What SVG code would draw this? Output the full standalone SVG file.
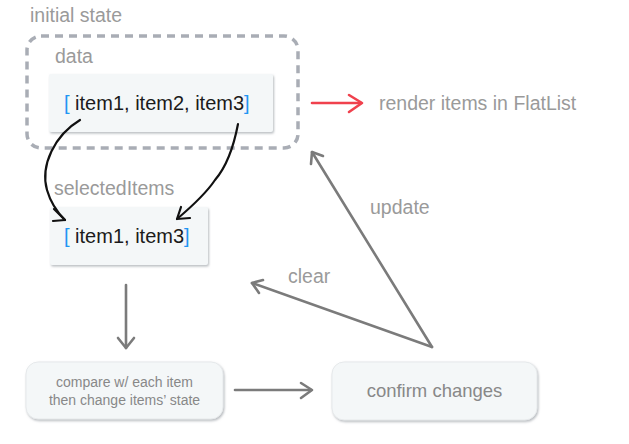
<svg xmlns="http://www.w3.org/2000/svg" width="629" height="444" viewBox="0 0 629 444">
  <style>
    text { font-family: "Liberation Sans", Arial, sans-serif; }
    .lbl { fill: #9a9a9a; font-size: 19.5px; }
    .item { fill: #1b1b1b; font-size: 20px; }
    .br { fill: #2196f3; }
    .small { fill: #888888; font-size: 14px; }
    .big { fill: #888888; font-size: 18.5px; }
    .box { fill: #f4f7f8; }
    .rbox { fill: #f4f7f8; stroke: #e6e9eb; stroke-width: 1; }
    .blk { fill: none; stroke: #111111; stroke-width: 2.2; stroke-linecap: round; stroke-linejoin: round; }
    .gry { fill: none; stroke: #7b7b7b; stroke-width: 2.6; stroke-linecap: round; stroke-linejoin: round; }
    .red { fill: none; stroke: #f0414d; stroke-width: 2.6; stroke-linecap: round; stroke-linejoin: round; }
  </style>
  <defs>
    <filter id="sh" x="-10%" y="-10%" width="125%" height="130%">
      <feDropShadow dx="1" dy="1.5" stdDeviation="0.8" flood-color="#9aa0a6" flood-opacity="0.7"/>
    </filter>
  </defs>

  <g id="initial-state">
    <text class="lbl" x="30" y="22">initial state</text>
    <rect x="27" y="36" width="271" height="112" rx="14" fill="none" stroke="#a9adb5" stroke-width="3.5" stroke-dasharray="8 6"/>
  </g>

  <g id="data">
    <text class="lbl" x="55" y="63">data</text>
    <rect class="box" x="49" y="74" width="224" height="58" rx="2" filter="url(#sh)"/>
    <text class="item" x="64" y="110"><tspan class="br">[</tspan> item1, item2, item3<tspan class="br">]</tspan></text>
  </g>

  <g id="render">
    <text class="lbl" x="379" y="110">render items in FlatList</text>
  </g>

  <g id="selectedItems">
    <text class="lbl" x="54" y="195">selectedItems</text>
    <rect class="box" x="50" y="207" width="158" height="58" rx="2" filter="url(#sh)"/>
    <text class="item" x="64" y="243"><tspan class="br">[</tspan> item1, item3<tspan class="br">]</tspan></text>
  </g>

  <g id="compare">
    <rect class="rbox" x="26" y="362" width="197" height="57" rx="12" filter="url(#sh)"/>
    <text class="small" x="124.5" y="387" text-anchor="middle">compare w/ each item</text>
    <text class="small" x="124.5" y="405" text-anchor="middle">then change items’ state</text>
  </g>

  <g id="confirm">
    <rect class="rbox" x="332" y="362" width="205" height="58" rx="12" filter="url(#sh)"/>
    <text class="big" x="434.5" y="397" text-anchor="middle">confirm changes</text>
  </g>

  <g id="connectors">
    <path class="blk" d="M80,120 C55,135 40,165 47,190 C51,204 57,212 65,220"/>
    <path class="blk" d="M54,209 L65,220 L53,221"/>
    <path class="blk" d="M238,124 C234,145 228,165 215,180 C205,195 190,208 177,219"/>
    <path class="blk" d="M181,207 L177,219 L190,218"/>

    <path class="red" d="M312,103 L361,103"/>
    <path class="red" d="M349,95 L362,103 L349,112"/>

    <path class="gry" d="M432,347 L312,152"/>
    <path class="gry" d="M323,156 L312,152 L311,164"/>
    <text class="lbl" x="370" y="214">update</text>

    <path class="gry" d="M432,347 L252,283"/>
    <path class="gry" d="M263,280 L252,283 L259,293"/>
    <text class="lbl" x="288" y="283">clear</text>

    <path class="gry" d="M126,285 L126,348"/>
    <path class="gry" d="M118,338 L126,348 L134,338"/>

    <path class="gry" d="M235,390 L311,390"/>
    <path class="gry" d="M301,383 L312,390 L301,398"/>
  </g>
</svg>
